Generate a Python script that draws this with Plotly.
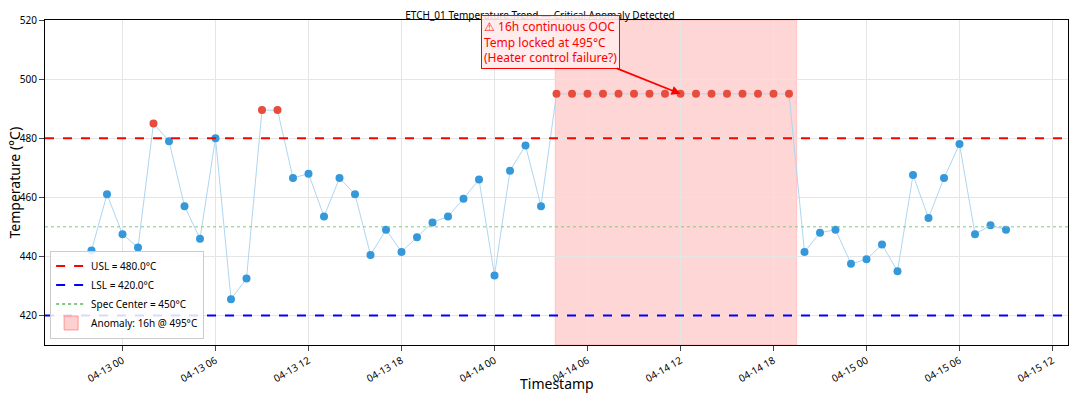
import pandas as pd
import plotly.graph_objects as go

start = "2024-04-12 22:00"
temps = [442, 461, 447.5, 443, 485, 479, 457, 446, 480, 425.5,
         432.5, 489.5, 489.5, 466.5, 468, 453.5, 466.5, 461, 440.5, 449,
         441.5, 446.5, 451.5, 453.5, 459.5, 466, 433.5, 469, 477.5, 457,
         495, 495, 495, 495, 495, 495, 495, 495, 495, 495,
         495, 495, 495, 495, 495, 495,
         441.5, 448, 449, 437.5, 439, 444, 435, 467.5, 453, 466.5,
         478, 447.5, 450.5, 449]
times = pd.date_range(start, periods=len(temps), freq="h")
usl, lsl, center = 480, 420, 450
anom_start, anom_end = pd.Timestamp("2024-04-14 03:55"), pd.Timestamp("2024-04-14 19:30")

colors = ["#e74c3c" if (t > usl or t < lsl) else "#3498db" for t in temps]

fig = go.Figure()
fig.add_vrect(x0=anom_start, x1=anom_end, fillcolor="rgba(255,120,120,0.3)", line_width=0.5,
              line_color="rgba(255,120,120,0.6)", layer="below")
fig.add_trace(go.Scatter(x=times, y=temps, mode="lines", line=dict(color="#aed6f1", width=1),
                         showlegend=False))
fig.add_trace(go.Scatter(x=times, y=temps, mode="markers", marker=dict(color=colors, size=8),
                         showlegend=False))
fig.add_hline(y=usl, line=dict(color="red", width=2, dash="dash"))
fig.add_hline(y=lsl, line=dict(color="blue", width=2, dash="dash"))
fig.add_hline(y=center, line=dict(color="#7fc97f", width=1, dash="dot"))
# legend entries
for name, col, dash in [("USL = 480.0°C", "red", "dash"), ("LSL = 420.0°C", "blue", "dash"),
                        ("Spec Center = 450°C", "#7fc97f", "dot")]:
    fig.add_trace(go.Scatter(x=[None], y=[None], mode="lines", name=name,
                             line=dict(color=col, dash=dash, width=2)))
fig.add_trace(go.Scatter(x=[None], y=[None], mode="markers", name="Anomaly: 16h @ 495°C",
                         marker=dict(symbol="square", size=14, color="rgba(255,120,120,0.35)",
                                     line=dict(color="rgba(255,120,120,0.7)", width=1))))

fig.add_annotation(x=times[38], y=495, ax=-130, ay=-52,
                   text="⚠ 16h continuous OOC<br>Temp locked at 495°C<br>(Heater control failure?)",
                   align="left", showarrow=True, arrowhead=2, arrowcolor="red", arrowwidth=1.8,
                   font=dict(color="red", size=12), bgcolor="rgba(255,235,235,0.9)",
                   bordercolor="red", borderwidth=1, borderpad=2)
fig.add_annotation(x=0.5, y=0, xref="paper", yref="paper", yshift=-38, showarrow=False,
                   text="Timestamp", font=dict(size=14), yanchor="middle")
fig.add_annotation(x=0, y=0.5, xref="paper", yref="paper", xshift=-31, showarrow=False,
                   text="Temperature (°C)", font=dict(size=14), textangle=-90, xanchor="center")

fig.update_layout(
    width=1064, height=386, plot_bgcolor="white", paper_bgcolor="white",
    font=dict(family="Noto Sans", color="black"),
    margin=dict(l=37, r=4, t=12, b=49),
    title=dict(text="ETCH_01 Temperature Trend — Critical Anomaly Detected", x=0.5, y=0.99,
               xanchor="center", yanchor="top", font=dict(size=10)),
    legend=dict(x=0.005, y=0.02, xanchor="left", yanchor="bottom", bgcolor="rgba(255,255,255,0.85)",
                bordercolor="#ccc", borderwidth=1, font=dict(size=10), tracegroupgap=0),
    xaxis=dict(automargin=False, range=["2024-04-12 19:00", "2024-04-15 13:00"],
               dtick=6 * 3600 * 1000, tick0="2024-04-13 00:00", tickformat="%m-%d %H",
               tickangle=-30, showgrid=True, gridcolor="#e5e5e5", showline=True, linecolor="black",
               mirror=True, ticks="outside", tickfont=dict(size=10)),
    yaxis=dict(automargin=False, range=[410, 520], dtick=20,
               showgrid=True, gridcolor="#e5e5e5", showline=True, linecolor="black", mirror=True,
               ticks="outside", tickfont=dict(size=10), zeroline=False),
)
fig.write_html("out.html")
